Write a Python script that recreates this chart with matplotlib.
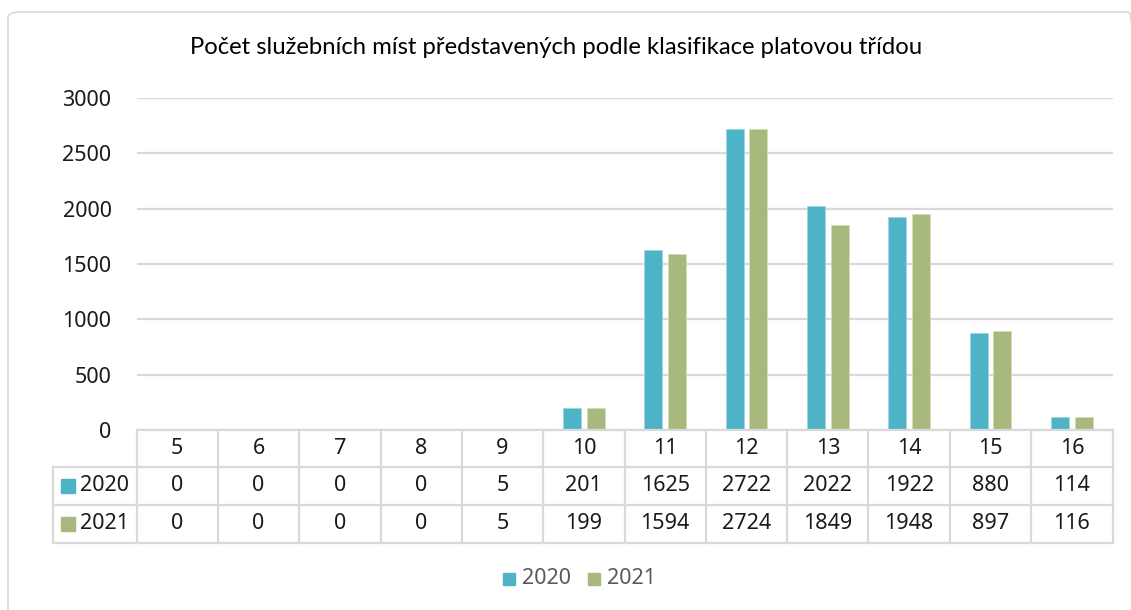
import numpy as np
import matplotlib.pyplot as plt
from matplotlib.lines import Line2D
from matplotlib.patches import Rectangle, FancyBboxPatch
from matplotlib.transforms import blended_transform_factory

plt.rcParams['font.family'] = ['Noto Sans', 'DejaVu Sans']

# data
categories = ['5', '6', '7', '8', '9', '10', '11', '12', '13', '14', '15', '16']
values_2020 = [0, 0, 0, 0, 5, 201, 1625, 2722, 2022, 1922, 880, 114]
values_2021 = [0, 0, 0, 0, 5, 199, 1594, 2724, 1849, 1948, 897, 116]
series_names = ['2020', '2021']
colors = ['#4fb3c8', '#a8b97e']
title = 'Počet služebních míst představených podle klasifikace platovou třídou'

W, H = 1131, 610
fig = plt.figure(figsize=(W / 100, H / 100), dpi=100)

def fx(px):
    return px / W

def fy(py):
    return 1 - py / H

grid_c = '#d9d9d9'
text_c = '#1a1a1a'
fs = 15.5

# outer border
fig.add_artist(FancyBboxPatch((fx(8), fy(640)), fx(1140) - fx(8), fy(12) - fy(640),
                              boxstyle='round,pad=0,rounding_size=0.01',
                              transform=fig.transFigure, fill=False,
                              edgecolor=grid_c, linewidth=1.2))

x0, x1 = 136.5, 1112.5
y_top, y_zero = 98, 430
ax = fig.add_axes([fx(x0), fy(y_zero), fx(x1) - fx(x0), fy(y_top) - fy(y_zero)])

x = np.arange(len(categories))
bw = 0.22
off = 0.145
ax.bar(x - off, values_2020, width=bw, color=colors[0], edgecolor='#9fd6e2', linewidth=0.6, zorder=3)
ax.bar(x + off, values_2021, width=bw, color=colors[1], edgecolor='#d3dcbd', linewidth=0.6, zorder=3)

ax.set_xlim(-0.5, len(categories) - 0.5)
ax.set_ylim(0, 3000)
ax.set_yticks(np.arange(0, 3001, 500))
ax.yaxis.grid(True, color=grid_c, linewidth=1.6, zorder=0)
ax.set_axisbelow(True)
for s in ax.spines.values():
    s.set_visible(False)
ax.tick_params(axis='y', length=0, labelsize=fs, colors=text_c, pad=18)
ax.tick_params(axis='x', length=0, labelbottom=False)

fig.suptitle(title, x=fx(556), y=fy(48), va='center', fontsize=17.2, color='black',
             family=['Lato', 'DejaVu Sans'])

# data table below the axis
tr = blended_transform_factory(ax.transData, fig.transFigure)
row_y = [430, 466.5, 505, 542.5]
left_px = 53
lw = 1.6

def hline(xa, xb, py, transform):
    fig.add_artist(Line2D([xa, xb], [fy(py), fy(py)], transform=transform, color=grid_c, lw=lw))

def vline(xv, pya, pyb, transform):
    fig.add_artist(Line2D([xv, xv], [fy(pya), fy(pyb)], transform=transform, color=grid_c, lw=lw))

# horizontal lines
hline(-0.5, len(categories) - 0.5, row_y[0], tr)
for py in row_y[1:]:
    fig.add_artist(Line2D([fx(left_px), fx(x1)], [fy(py), fy(py)], transform=fig.transFigure,
                          color=grid_c, lw=lw))
# vertical lines
for k in range(len(categories) + 1):
    vline(k - 0.5, row_y[0], row_y[3], tr)
fig.add_artist(Line2D([fx(left_px), fx(left_px)], [fy(row_y[1]), fy(row_y[3])],
                      transform=fig.transFigure, color=grid_c, lw=lw))

mid = [(row_y[i] + row_y[i + 1]) / 2 for i in range(3)]
for i, c in enumerate(categories):
    fig.text(i, fy(mid[0]), c, transform=tr, ha='center', va='center', fontsize=fs, color=text_c)
    fig.text(i, fy(mid[1]), str(values_2020[i]), transform=tr, ha='center', va='center',
             fontsize=fs, color=text_c)
    fig.text(i, fy(mid[2]), str(values_2021[i]), transform=tr, ha='center', va='center',
             fontsize=fs, color=text_c)

for r, (name, col) in enumerate(zip(series_names, colors)):
    yc = mid[r + 1]
    fig.add_artist(Rectangle((fx(61), fy(yc + 7)), fx(14), fy(yc - 7) - fy(yc + 7),
                             transform=fig.transFigure, color=col))
    fig.text(fx(80), fy(yc), name, ha='left', va='center', fontsize=fs, color=text_c)

# legend
for name, col, lx in zip(series_names, colors, [503, 588]):
    fig.add_artist(Rectangle((fx(lx), fy(585)), fx(12), fy(573) - fy(585),
                             transform=fig.transFigure, color=col))
    fig.text(fx(lx + 19), fy(579), name, ha='left', va='center', fontsize=fs, color='#595959')

fig.savefig('out.png', dpi=100)
